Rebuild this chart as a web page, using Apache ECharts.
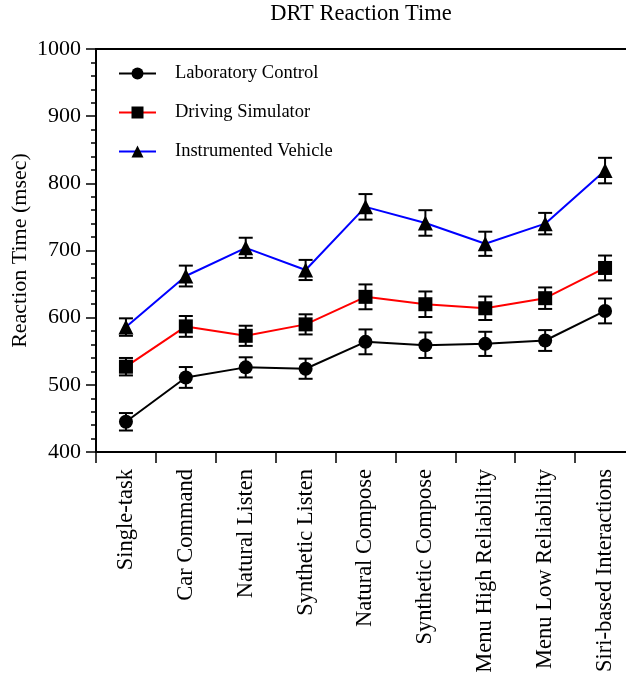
<!DOCTYPE html>
<html>
<head>
<meta charset="utf-8">
<script src="https://cdn.jsdelivr.net/npm/echarts@6/dist/echarts.min.js"></script>
<style>html,body{margin:0;padding:0;background:#fff}#c{width:626px;height:678px}</style>
</head>
<body>
<div id="c"></div>
<script>
var categories = ['Single-task','Car Command','Natural Listen','Synthetic Listen','Natural Compose','Synthetic Compose','Menu High Reliability','Menu Low Reliability','Siri-based Interactions'];
var labMean = [445, 511, 526, 524, 564, 559, 561, 566, 610];
var labErr  = [13, 15.5, 15, 15, 18.5, 19, 18, 15.5, 18.5];
var simMean = [527, 587, 573, 590, 631, 620, 614, 629, 674];
var simErr  = [13, 15.5, 15, 15, 18.5, 19, 17.5, 16, 18.5];
var vehMean = [586, 662, 704, 671, 765, 741, 710, 740, 819];
var vehErr  = [13, 15.5, 15, 15, 19, 19, 18, 16, 19];
var yTicks = [400, 500, 600, 700, 800, 900, 1000];

var FONT = 'Liberation Serif';
function errData(m, e) { return m.map(function (v, i) { return [i, v - e[i], v + e[i]]; }); }
function errSeries(m, e) {
  return {
    type: 'custom', silent: true, z: 1,
    data: errData(m, e),
    renderItem: function (params, api) {
      var x = api.value(0), lo = api.coord([x, api.value(1)]), hi = api.coord([x, api.value(2)]);
      var w = 7;
      var st = { stroke: '#000', lineWidth: 2 };
      return { type: 'group', children: [
        { type: 'line', shape: { x1: lo[0], y1: lo[1], x2: hi[0], y2: hi[1] }, style: st },
        { type: 'line', shape: { x1: lo[0] - w, y1: lo[1], x2: lo[0] + w, y2: lo[1] }, style: st },
        { type: 'line', shape: { x1: hi[0] - w, y1: hi[1], x2: hi[0] + w, y2: hi[1] }, style: st }
      ]};
    }
  };
}
function lineSeries(name, data, color, symbol, size) {
  return {
    name: name, type: 'line', data: data, z: 3,
    symbol: symbol, symbolSize: size,
    lineStyle: { color: color, width: 2 },
    itemStyle: { color: '#000' },
    emphasis: { disabled: true }
  };
}
var chart = echarts.init(document.getElementById('c'), null, { renderer: 'canvas' });
chart.setOption({
  animation: false,
  backgroundColor: '#fff',
  textStyle: { fontFamily: FONT },
  title: {
    text: 'DRT Reaction Time', left: 361, top: 3, textAlign: 'center', padding: 0,
    textStyle: { fontFamily: FONT, fontSize: 22.5, fontWeight: 'normal', color: '#000' }
  },
  legend: {
    orient: 'vertical', left: 118, top: 64, padding: 0,
    itemWidth: 37, itemHeight: 15, itemGap: 20,
    textStyle: { fontFamily: FONT, fontSize: 18.5, color: '#000', padding: [0, 0, 0, 14] },
    data: ['Laboratory Control', 'Driving Simulator', 'Instrumented Vehicle']
  },
  grid: {
    left: 96, top: 49, width: 539, height: 403,
    show: true, borderColor: '#000', borderWidth: 2,
    containLabel: false, outerBoundsMode: 'none'
  },
  xAxis: {
    type: 'category', data: categories, boundaryGap: true,
    axisLine: { lineStyle: { color: '#000', width: 2 } },
    axisTick: { show: true, length: 11, lineStyle: { color: '#000', width: 1.5 } },
    axisLabel: { rotate: 90, fontFamily: FONT, fontSize: 22.5, color: '#000', margin: 17, interval: 0 },
    splitLine: { show: false }
  },
  yAxis: {
    type: 'value', min: yTicks[0], max: yTicks[yTicks.length - 1], interval: 100,
    name: 'Reaction Time (msec)', nameLocation: 'middle', nameGap: 65, nameMoveOverlap: false,
    nameTextStyle: { fontFamily: FONT, fontSize: 22, color: '#000' },
    axisLine: { show: true, lineStyle: { color: '#000', width: 2 } },
    axisTick: { show: true, length: 10, lineStyle: { color: '#000', width: 1.5 } },
    minorTick: { show: true, splitNumber: 5, length: 5, lineStyle: { color: '#000', width: 1.5 } },
    axisLabel: { fontFamily: FONT, fontSize: 22, color: '#000', margin: 15, formatter: function (v) { return String(v); } },
    splitLine: { show: false }
  },
  series: [
    errSeries(labMean, labErr),
    errSeries(simMean, simErr),
    errSeries(vehMean, vehErr),
    lineSeries('Laboratory Control', labMean, '#000', 'circle', 14),
    lineSeries('Driving Simulator', simMean, '#ff0000', 'rect', 14),
    lineSeries('Instrumented Vehicle', vehMean, '#0000ff', 'triangle', 15)
  ]
});
</script>
</body>
</html>
